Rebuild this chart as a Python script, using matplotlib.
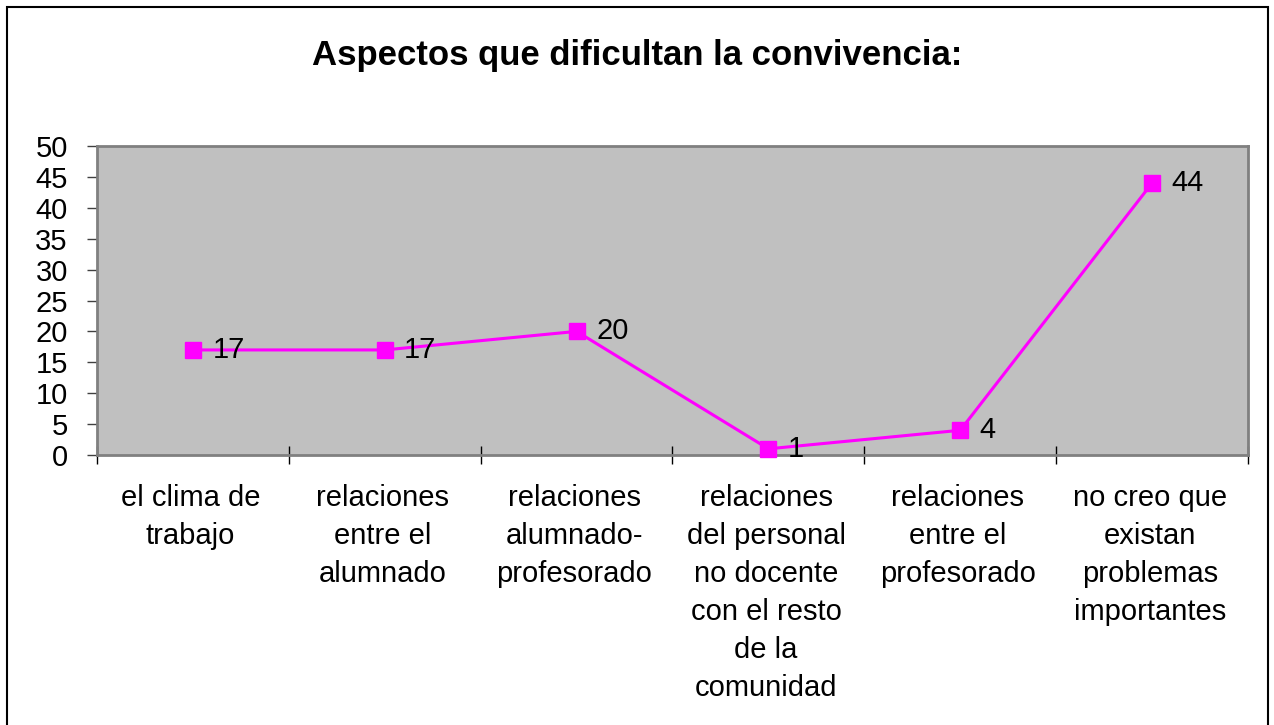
import matplotlib
matplotlib.use("Agg")
import matplotlib.pyplot as plt
from matplotlib.patches import Rectangle

categories = [
    "el clima de\ntrabajo",
    "relaciones\nentre el\nalumnado",
    "relaciones\nalumnado-\nprofesorado",
    "relaciones\ndel personal\nno docente\ncon el resto\nde la\ncomunidad",
    "relaciones\nentre el\nprofesorado",
    "no creo que\nexistan\nproblemas\nimportantes",
]
values = [17, 17, 20, 1, 4, 44]
yticks = list(range(0, 55, 5))

plt.rcParams["font.family"] = ["Liberation Sans", "DejaVu Sans"]

W, H = 1274, 725
fig = plt.figure(figsize=(W / 100, H / 100), dpi=100)

# outer frame of the chart
fig.patches.append(Rectangle((7 / W, -0.05), (1268 - 7) / W, 1.05 - 7 / H,
                             transform=fig.transFigure, fill=False,
                             edgecolor="black", linewidth=1.5))

left, right, top, bottom = 97, 1248, 146, 455
ax = fig.add_axes([left / W, 1 - bottom / H, (right - left) / W, (bottom - top) / H])
ax.set_facecolor("#C0C0C0")
for s in ax.spines.values():
    s.set_color("#808080")
    s.set_linewidth(2)

x = list(range(len(values)))
ax.plot(x, values, color="#FF00FF", linewidth=2.2, marker="s", markersize=11,
        markeredgecolor="#FF00FF", markerfacecolor="#FF00FF", clip_on=False, zorder=3)
for xi, v in zip(x, values):
    ax.annotate(str(v), (xi, v), xytext=(14, 0), textcoords="offset points",
                ha="left", va="center", fontsize=21, color="black", zorder=4)

ax.set_xlim(-0.5, len(values) - 0.5)
ax.set_ylim(0, 50)
ax.set_yticks(yticks)
ax.set_yticklabels([str(t) for t in yticks], fontsize=21)
ax.tick_params(axis="y", direction="out", length=7, width=1, color="#404040", pad=14)

# category boundaries as ticks crossing the axis
ax.set_xticks([i - 0.5 for i in range(len(values) + 1)])
ax.set_xticklabels([])
ax.tick_params(axis="x", direction="inout", length=13, width=1, color="black")
for xi, lab in zip(x, categories):
    ax.text(xi - 0.012, -0.095, lab, transform=ax.get_xaxis_transform(), ha="center",
            va="top", fontsize=21, linespacing=1.45)

fig.text(0.5, 1 - 55 / H, "Aspectos que dificultan la convivencia:", ha="center",
         va="center", fontsize=25, fontweight="bold")

fig.savefig("out.png", dpi=100)
